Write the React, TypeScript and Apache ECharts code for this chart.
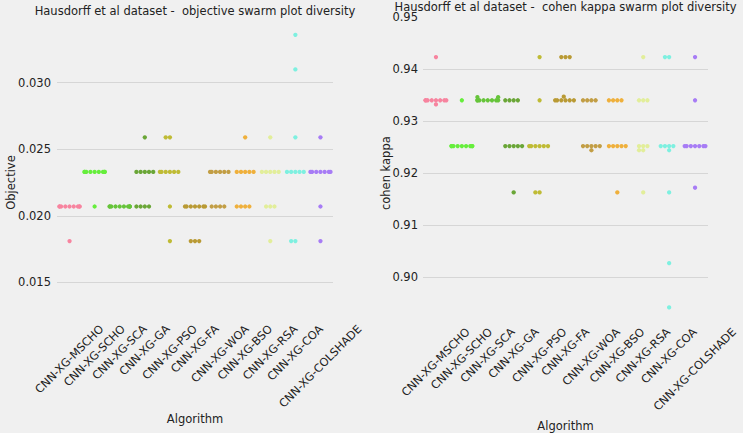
import React, { useEffect, useRef } from 'react';
import * as echarts from 'echarts';

const categories = ['CNN-XG-MSCHO', 'CNN-XG-SCHO', 'CNN-XG-SCA', 'CNN-XG-GA', 'CNN-XG-PSO', 'CNN-XG-FA', 'CNN-XG-WOA', 'CNN-XG-BSO', 'CNN-XG-RSA', 'CNN-XG-COA', 'CNN-XG-COLSHADE'];
const palette = ['#f7849f', '#66ee3c', '#66c43a', '#6aa637', '#bfbb35', '#b99a34', '#c29e45', '#efb03c', '#e2ee9a', '#7ef0e0', '#a77cf5'];

// objective values per algorithm
const objMSCHO = [0.0181, 0.0207, 0.0207, 0.0207, 0.0207, 0.0207, 0.0207, 0.0207, 0.0207, 0.0207];
const objSCHO = [0.0207, 0.0233, 0.0233, 0.0233, 0.0233, 0.0233, 0.0233, 0.0233, 0.0233, 0.0233];
const objSCA = [0.0207, 0.0207, 0.0207, 0.0207, 0.0207, 0.0207, 0.0207, 0.0207, 0.0207, 0.0207];
const objGA = [0.0207, 0.0207, 0.0207, 0.0207, 0.0233, 0.0233, 0.0233, 0.0233, 0.0233, 0.0259];
const objPSO = [0.0181, 0.0207, 0.0233, 0.0233, 0.0233, 0.0233, 0.0233, 0.0233, 0.0259, 0.0259];
const objFA = [0.0181, 0.0181, 0.0181, 0.0207, 0.0207, 0.0207, 0.0207, 0.0207, 0.0207, 0.0207];
const objWOA = [0.0207, 0.0207, 0.0207, 0.0207, 0.0233, 0.0233, 0.0233, 0.0233, 0.0233, 0.0233];
const objBSO = [0.0207, 0.0207, 0.0207, 0.0207, 0.0233, 0.0233, 0.0233, 0.0233, 0.0233, 0.0259];
const objRSA = [0.0181, 0.0207, 0.0207, 0.0207, 0.0233, 0.0233, 0.0233, 0.0233, 0.0233, 0.0259];
const objCOA = [0.0181, 0.0181, 0.0233, 0.0233, 0.0233, 0.0233, 0.0233, 0.0259, 0.0310, 0.0336];
const objCOLSHADE = [0.0181, 0.0207, 0.0233, 0.0233, 0.0233, 0.0233, 0.0233, 0.0233, 0.0233, 0.0259];

// cohen kappa values per algorithm
const kapMSCHO = [0.9423, 0.9332, 0.9340, 0.9340, 0.9340, 0.9340, 0.9340, 0.9340, 0.9340, 0.9340];
const kapSCHO = [0.9340, 0.9252, 0.9252, 0.9252, 0.9252, 0.9252, 0.9252, 0.9252, 0.9252, 0.9252];
const kapSCA = [0.9340, 0.9340, 0.9340, 0.9340, 0.9340, 0.9340, 0.9340, 0.9340, 0.9346, 0.9346];
const kapGA = [0.9163, 0.9252, 0.9252, 0.9252, 0.9252, 0.9252, 0.9340, 0.9340, 0.9340, 0.9340];
const kapPSO = [0.9163, 0.9163, 0.9252, 0.9252, 0.9252, 0.9252, 0.9252, 0.9252, 0.9340, 0.9423];
const kapFA = [0.9340, 0.9340, 0.9340, 0.9340, 0.9340, 0.9340, 0.9347, 0.9423, 0.9423, 0.9423];
const kapWOA = [0.9244, 0.9252, 0.9252, 0.9252, 0.9252, 0.9252, 0.9340, 0.9340, 0.9340, 0.9340];
const kapBSO = [0.9163, 0.9252, 0.9252, 0.9252, 0.9252, 0.9252, 0.9340, 0.9340, 0.9340, 0.9340];
const kapRSA = [0.9163, 0.9244, 0.9244, 0.9252, 0.9252, 0.9252, 0.9340, 0.9340, 0.9340, 0.9423];
const kapCOA = [0.8942, 0.9027, 0.9163, 0.9244, 0.9252, 0.9252, 0.9252, 0.9252, 0.9423, 0.9423];
const kapCOLSHADE = [0.9172, 0.9252, 0.9252, 0.9252, 0.9252, 0.9252, 0.9252, 0.9252, 0.9340, 0.9423];

const objGroups = [objMSCHO, objSCHO, objSCA, objGA, objPSO, objFA, objWOA, objBSO, objRSA, objCOA, objCOLSHADE];
const kapGroups = [kapMSCHO, kapSCHO, kapSCA, kapGA, kapPSO, kapFA, kapWOA, kapBSO, kapRSA, kapCOA, kapCOLSHADE];

const FONT = 'DejaVu Sans';
const TEXT = '#222222';
const GRIDC = '#d6d6d6';
const BG = '#f0f0f0';
const DOT_D = 4.0;
const DOT_R = 2.15;
const XTICK_FS = 11.3;

function beeswarm(pts: number[][], d: number, half: number): number[] {
  const n = pts.length;
  const mid = pts[0][0];
  const order = pts.map((_, i) => i).sort((a, b) => (pts[b][1] - pts[a][1]) || (a - b));
  const placed: { x: number; y: number }[] = [];
  const out: number[] = new Array(n);
  for (const i of order) {
    const y = pts[i][1];
    const neigh: { x: number; y: number }[] = [];
    for (let j = placed.length - 1; j >= 0; j--) {
      if (Math.abs(placed[j].y - y) < d) neigh.unshift(placed[j]);
      else break;
    }
    const cands: number[] = [mid];
    let leftFirst = true;
    for (const nb of neigh) {
      const dy = y - nb.y;
      const dx = Math.sqrt(Math.max(d * d - dy * dy, 0)) * 1.05;
      const cl = nb.x - dx;
      const cr = nb.x + dx;
      if (leftFirst) cands.push(cl, cr);
      else cands.push(cr, cl);
      leftFirst = !leftFirst;
    }
    const sorted = cands.map((x, k) => ({ x, k })).sort((a, b) => (Math.abs(a.x - mid) - Math.abs(b.x - mid)) || (a.k - b.k));
    let chosen = sorted[sorted.length - 1].x;
    for (const c of sorted) {
      let ok = true;
      for (const nb of neigh) {
        const ddx = nb.x - c.x;
        const ddy = nb.y - y;
        if (ddx * ddx + ddy * ddy < d * d - 1e-6) { ok = false; break; }
      }
      if (ok) { chosen = c.x; break; }
    }
    placed.push({ x: chosen, y });
    out[i] = chosen;
  }
  return out.map((x) => Math.min(mid + half, Math.max(mid - half, x)));
}

function makeRenderItem(groups: number[][]) {
  return (params: any, api: any) => {
    const ctx = params.context;
    if (!ctx.pos) {
      const band = api.coord([1, groups[0][0]])[0] - api.coord([0, groups[0][0]])[0];
      const pos: number[][] = [];
      groups.forEach((vals, c) => {
        const pts = vals.map((v) => api.coord([c, v]));
        const xs = beeswarm(pts, DOT_D, band * 0.4);
        xs.forEach((x, k) => pos.push([x, pts[k][1], c]));
      });
      ctx.pos = pos;
    }
    const p = ctx.pos[params.dataIndex];
    return {
      type: 'circle',
      shape: { cx: p[0], cy: p[1], r: DOT_R },
      style: { fill: palette[p[2]] },
    };
  };
}

function labelRich() {
  const canvas = document.createElement('canvas');
  const c = canvas.getContext('2d') as CanvasRenderingContext2D;
  c.font = `${XTICK_FS}px "${FONT}"`;
  const h = XTICK_FS * 1.17;
  const rich: any = {};
  categories.forEach((cat, i) => {
    const w = c.measureText(cat).width;
    const p = 0.5 * (w + h);
    rich['l' + i] = { fontSize: XTICK_FS, fontFamily: FONT, color: TEXT, padding: [p, p, 0, 0] };
  });
  return rich;
}

export default function App() {
  const ref = useRef<HTMLDivElement>(null);
  useEffect(() => {
    if (!ref.current) return;
    const chart = echarts.init(ref.current, undefined, { renderer: 'svg' });
    const rich = labelRich();

    // layout
    const L = { left: 57, width: 276, top: 16.2, height: 332.7, labelTop: 322.5, nameCenter: 420 };
    const R = { left: 423, width: 285, top: 17, height: 312.3, labelTop: 325.5, nameCenter: 427 };

    const xAxisFor = (gi: number, g: any) => ({
      type: 'category',
      gridIndex: gi,
      data: categories,
      boundaryGap: true,
      axisLine: { show: false },
      axisTick: { show: false },
      splitLine: { show: false },
      axisLabel: {
        interval: 0,
        rotate: 45,
        align: 'center',
        verticalAlign: 'middle',
        margin: g.labelTop - (g.top + g.height),
        fontFamily: FONT,
        fontSize: XTICK_FS,
        color: TEXT,
        formatter: (v: string, i: number) => `{l${i}|${v}}`,
        rich,
      },
      name: 'Algorithm',
      nameLocation: 'middle',
      nameGap: g.nameCenter - (g.top + g.height) - 7,
      nameMoveOverlap: false,
      nameTextStyle: { fontFamily: FONT, fontSize: 11.5, color: TEXT },
    });

    const allObj = objGroups.flatMap((vals, c) => vals.map((v) => [c, v]));
    const allKap = kapGroups.flatMap((vals, c) => vals.map((v) => [c, v]));

    chart.setOption({
      animation: false,
      backgroundColor: BG,
      title: [
        {
          text: 'Hausdorff et al dataset -  objective swarm plot diversity',
          left: 195, top: 4.5, textAlign: 'center', padding: 0,
          textStyle: { fontFamily: FONT, fontSize: 11.5, fontWeight: 'normal', color: TEXT },
        },
        {
          text: 'Hausdorff et al dataset -  cohen kappa swarm plot diversity',
          left: 565.5, top: 0.5, textAlign: 'center', padding: 0,
          textStyle: { fontFamily: FONT, fontSize: 11.5, fontWeight: 'normal', color: TEXT },
        },
      ],
      grid: [
        { left: L.left, top: L.top, width: L.width, height: L.height, containLabel: false, outerBoundsMode: 'none' },
        { left: R.left, top: R.top, width: R.width, height: R.height, containLabel: false, outerBoundsMode: 'none' },
      ],
      xAxis: [xAxisFor(0, L), xAxisFor(1, R)],
      yAxis: [
        {
          type: 'value', gridIndex: 0, min: 0.010, max: 0.035, interval: 0.005,
          axisLine: { show: false }, axisTick: { show: false },
          splitLine: { show: true, showMinLine: false, showMaxLine: false, lineStyle: { color: GRIDC, width: 1.2 } },
          axisLabel: {
            showMinLabel: false, showMaxLabel: false, margin: 6,
            fontFamily: FONT, fontSize: 11.5, color: TEXT,
            formatter: (v: number) => v.toFixed(3),
          },
          name: 'Objective', nameLocation: 'middle', nameGap: 40, nameMoveOverlap: false,
          nameTextStyle: { fontFamily: FONT, fontSize: 11.5, color: TEXT },
        },
        {
          type: 'value', gridIndex: 1, min: 0.89, max: 0.95, interval: 0.01,
          axisLine: { show: false }, axisTick: { show: false },
          splitLine: { show: true, showMinLine: false, showMaxLine: false, lineStyle: { color: GRIDC, width: 1.2 } },
          axisLabel: {
            showMinLabel: false, showMaxLabel: true, margin: 5,
            fontFamily: FONT, fontSize: 11.5, color: TEXT,
            formatter: (v: number) => v.toFixed(2),
          },
          name: 'cohen kappa', nameLocation: 'middle', nameGap: 31, nameMoveOverlap: false,
          nameTextStyle: { fontFamily: FONT, fontSize: 11.5, color: TEXT },
        },
      ],
      series: [
        {
          type: 'custom', xAxisIndex: 0, yAxisIndex: 0, clip: false,
          data: allObj, encode: { x: 0, y: 1 },
          renderItem: makeRenderItem(objGroups),
        },
        {
          type: 'custom', xAxisIndex: 1, yAxisIndex: 1, clip: false,
          data: allKap, encode: { x: 0, y: 1 },
          renderItem: makeRenderItem(kapGroups),
        },
      ],
    } as any);
    return () => chart.dispose();
  }, []);
  return (
    <div
      ref={ref}
      style={{ position: 'fixed', left: 0, top: 0, width: 743, height: 433, background: BG }}
    />
  );
}
